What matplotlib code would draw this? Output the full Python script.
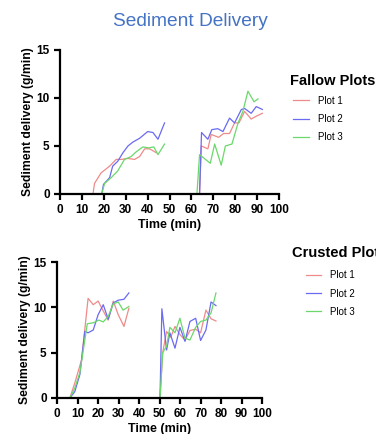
import matplotlib.pyplot as plt

plt.rcParams['font.family'] = ['Liberation Sans', 'DejaVu Sans']

red = '#f08a8a'
blue = '#6a6af2'
green = '#6ad86a'

# fallow plots, two rainfall runs each
f1_t = [15, 15.7, 18.7, 22.6, 25.6, 27.9, 31, 34, 36.3, 38.6, 40.9, 43.9,
        None,
        63.7, 64.5, 67.5, 69, 72.4, 74.7, 77.4, 79.7, 81.7, 84.3, 87.3, 89.6, 92.4]
f1_y = [0, 1.1, 2.2, 2.9, 3.6, 3.6, 3.7, 3.6, 3.9, 4.7, 4.7, 4.3,
        None,
        0, 5.0, 4.7, 6.2, 5.9, 6.3, 6.3, 7.4, 7.4, 8.6, 7.8, 8.1, 8.4]
f2_t = [19, 19.8, 22.6, 24, 26.3, 28.7, 31, 33.2, 36.3, 40, 42.4, 44.7, 47.7,
        None,
        63.7, 64.6, 67.5, 69.3, 72, 74.4, 77.4, 79.7, 82.8, 84.3, 87.3, 89.6, 92.4]
f2_y = [0, 1.0, 1.7, 2.9, 3.4, 4.3, 5.0, 5.4, 5.8, 6.5, 6.4, 5.7, 7.4,
        None,
        0, 6.4, 5.7, 6.7, 6.8, 6.5, 7.9, 7.4, 8.8, 8.9, 8.4, 9.1, 8.8]
f3_t = [19, 20.3, 23.3, 26.3, 29.4, 32.4, 34.8, 37.8, 40.4, 42.8, 44.7, 47.7,
        None,
        62.5, 63.7, 68.6, 70.6, 73.6, 75.5, 78.5, 81.3, 83.5, 85.8, 88.6, 90.4]
f3_y = [0, 1.1, 1.7, 2.4, 3.6, 3.9, 4.4, 4.9, 4.8, 4.9, 4.1, 5.2,
        None,
        0, 4.1, 3.2, 5.2, 3.0, 5.0, 5.2, 7.4, 8.6, 10.7, 9.6, 9.9]

# crusted plots
c1_t = [6.2, 8.6, 11.9, 15.1, 17.6, 20, 22.5, 24.9, 27.4, 29.8, 32.6, 35,
        None,
        50.2, 51.5, 53.4, 55.4, 57.5, 59.9, 62.4, 64.8, 67.6, 70, 72.6, 75.1, 77.5]
c1_y = [0, 1.65, 4.2, 11.0, 10.3, 10.7, 9.6, 8.6, 10.7, 9.2, 7.9, 9.9,
        None,
        0, 5.0, 7.35, 6.7, 7.9, 7.0, 6.4, 7.45, 7.6, 7.2, 9.7, 8.75, 8.5]
c2_t = [6.2, 8.6, 11.1, 13.5, 15.1, 17.6, 20, 22.5, 24.9, 27.4, 29.8, 32.6, 35,
        None,
        50.2, 51.1, 53.4, 55, 57.5, 59.9, 62.4, 64.8, 67.6, 70, 72.6, 75.1, 77.5]
c2_y = [0, 0.7, 2.6, 7.35, 7.2, 7.5, 9.2, 10.3, 8.7, 10.5, 10.8, 10.9, 11.6,
        None,
        0, 9.85, 5.3, 7.2, 5.5, 7.8, 6.25, 8.45, 8.8, 6.35, 7.5, 10.6, 10.2]
c3_t = [6.2, 8.6, 11.1, 14.7, 17.6, 20.4, 22.5, 24.9, 27.4, 29.8, 32.2, 35,
        None,
        50.2, 51.5, 53.4, 55, 57.5, 59.9, 62.4, 64.8, 67.6, 70, 72.6, 75.1, 77.5]
c3_y = [0, 1.1, 2.8, 8.2, 8.3, 8.6, 8.4, 9.0, 10.4, 10.6, 9.7, 10.1,
        None,
        0, 5.0, 5.7, 7.8, 7.2, 8.8, 6.6, 6.4, 7.8, 8.45, 8.6, 9.4, 11.6]

labels = ['Plot 1', 'Plot 2', 'Plot 3']
colors = [red, blue, green]


def fix(v):
    return [float('nan') if a is None else a for a in v]


def style(ax):
    for s in ['top', 'right']:
        ax.spines[s].set_visible(False)
    for s in ['left', 'bottom']:
        ax.spines[s].set_linewidth(1.6)
    ax.set_xlim(0, 100)
    ax.set_ylim(0, 15)
    ax.set_xticks(range(0, 101, 10))
    ax.set_yticks([0, 5, 10, 15])
    ax.tick_params(width=1.6, length=4, labelsize=8.5)
    for t in ax.get_xticklabels() + ax.get_yticklabels():
        t.set_fontweight('bold')
    ax.set_xlabel('Time (min)', fontsize=9, fontweight='bold', labelpad=2)
    ax.set_ylabel('Sediment delivery (g/min)', fontsize=8.7, fontweight='bold', labelpad=2)


fig = plt.figure(figsize=(3.76, 4.34), dpi=100, facecolor='white')

ax1 = fig.add_axes([0.160, 0.553, 0.582, 0.332])
lines1 = []
for t, y, c, lab in zip([f1_t, f2_t, f3_t], [f1_y, f2_y, f3_y], colors, labels):
    l, = ax1.plot(fix(t), fix(y), color=c, linewidth=0.9, label=lab)
    lines1.append(l)
style(ax1)

ax2 = fig.add_axes([0.152, 0.083, 0.545, 0.313])
lines2 = []
for t, y, c, lab in zip([c1_t, c2_t, c3_t], [c1_y, c2_y, c3_y], colors, labels):
    l, = ax2.plot(fix(t), fix(y), color=c, linewidth=0.9, label=lab)
    lines2.append(l)
style(ax2)

fig.text(0.507, 0.951, 'Sediment Delivery', ha='center', va='center',
         fontsize=13.8, color='#4472c4')

fig.text(0.772, 0.814, 'Fallow Plots', ha='left', va='center',
         fontsize=10.5, fontweight='bold')
fig.legend(handles=lines1, loc='upper left', bbox_to_anchor=(0.770, 0.788),
           frameon=False, fontsize=7, handlelength=1.6, handletextpad=0.9,
           labelspacing=0.85, borderaxespad=0)

fig.text(0.776, 0.417, 'Crusted Plots', ha='left', va='center',
         fontsize=10.5, fontweight='bold')
fig.legend(handles=lines2, loc='upper left', bbox_to_anchor=(0.803, 0.386),
           frameon=False, fontsize=7, handlelength=1.6, handletextpad=0.9,
           labelspacing=0.85, borderaxespad=0)

fig.savefig('out.png', dpi=100, facecolor='white')
